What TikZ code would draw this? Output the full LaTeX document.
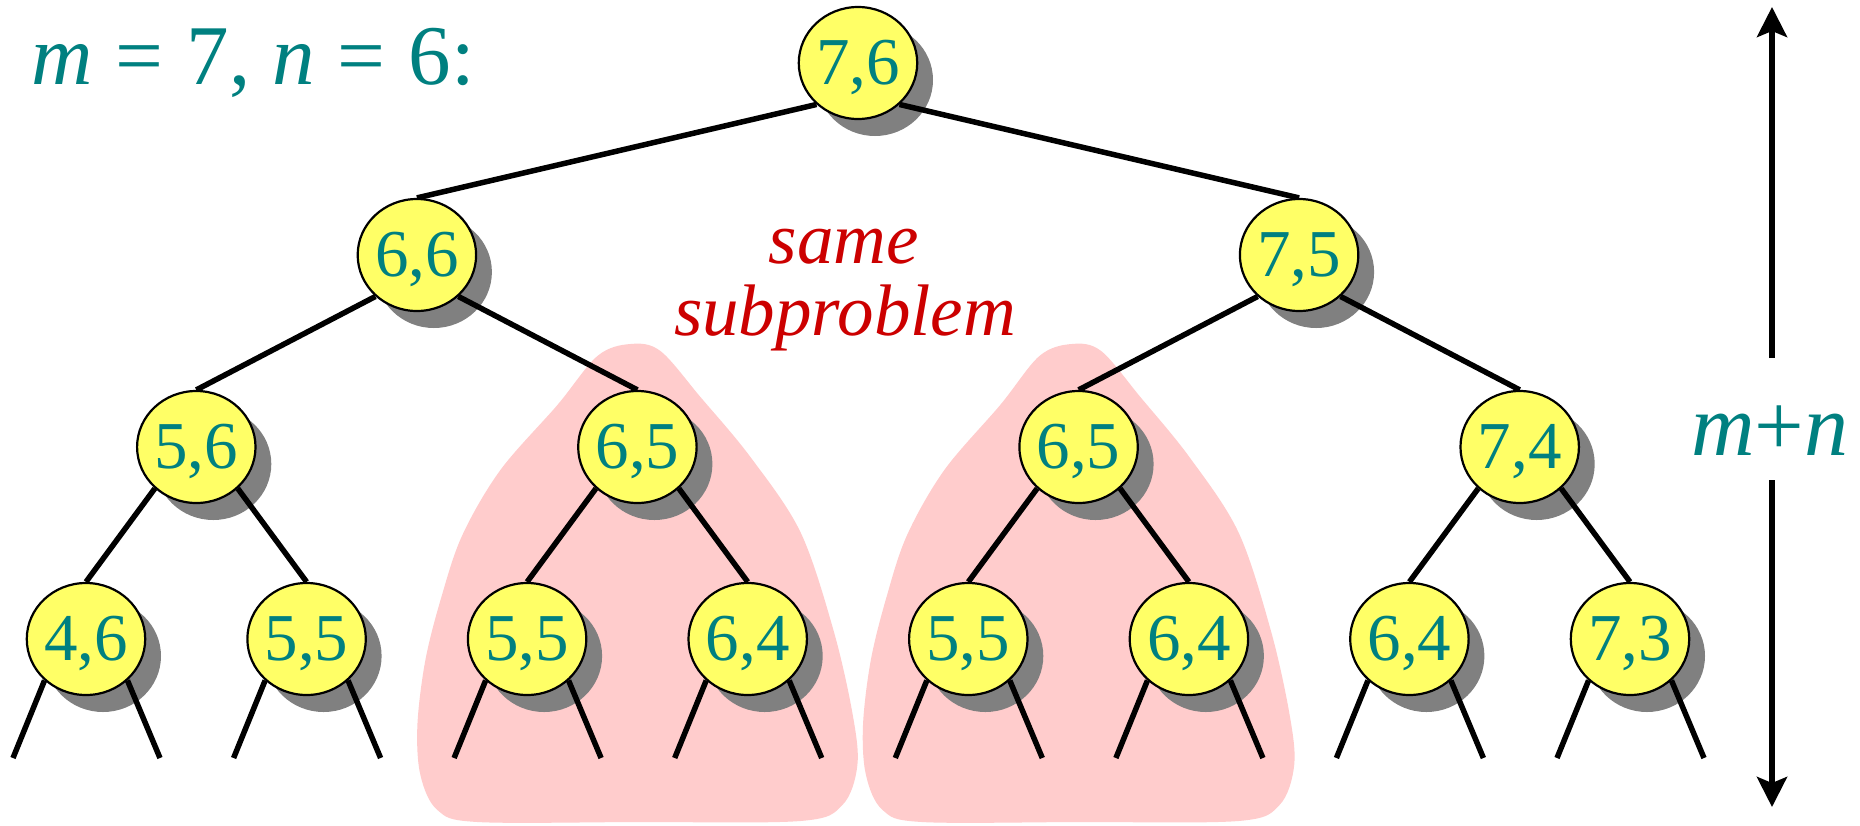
\documentclass[tikz,border=0pt]{standalone}
\usepackage{fontspec}
\setmainfont{Liberation Serif}
\usetikzlibrary{arrows.meta,shapes.geometric}
\pgfdeclarelayer{bg}
\pgfdeclarelayer{shade}
\pgfdeclarelayer{edges}
\pgfsetlayers{bg,shade,edges,main}
\definecolor{tealc}{RGB}{0,128,128}
\definecolor{nodeyellow}{RGB}{255,255,102}
\definecolor{pinkc}{RGB}{255,204,204}
\definecolor{redc}{RGB}{204,0,0}
\definecolor{shadowgray}{RGB}{128,128,128}
\begin{document}
\begin{tikzpicture}[x=1pt,y=-1pt,
  tnode/.style={ellipse, draw=black, line width=2.2pt, fill=nodeyellow,
    minimum width=116pt, minimum height=112pt, inner sep=0pt, text=tealc,
    font=\fontsize{67}{67}\selectfont, text height=45pt, text depth=3pt},
  treeline/.style={line width=5.5pt, black},
  blobfill/.style={fill=pinkc},
  lbl/.style={text=tealc, font=\fontsize{85}{85}\selectfont, inner sep=0pt},
  redlbl/.style={text=redc, font=\fontsize{73}{73}\selectfont\itshape, inner sep=0pt},
  measarrow/.style={line width=5.5pt, -{Stealth[length=30pt,width=30pt,inset=6pt]}}
]
\useasboundingbox (0,0) rectangle (1860,825);
\begin{pgfonlayer}{bg}
  \fill[white] (0,0) rectangle (1860,825);
  \foreach \cx/\sc in {637.4/1,1078.6/0.98}{
    \begin{scope}[shift={(\cx,0)}, xscale=\sc]
      \fill[blobfill] plot[smooth cycle, tension=0.55] coordinates {
        (-7,344) (23,351) (63,397) (113,457) (163,532) (196,630) (215,713)
        (220,765) (205,805) (163,821) (0,822) (-160,822) (-200,810) (-217,775)
        (-220,725) (-212,660) (-196,597) (-175,535) (-137,470) (-80,405) (-40,356)};
    \end{scope}
  }
\end{pgfonlayer}

% title texts
\node[lbl, anchor=base west] (title) at (31,84) {\textit{m}\hspace{2pt} = \hspace{2pt}7, \textit{n}\hspace{2pt} = \hspace{2pt}6:};
\node[redlbl, anchor=base] (same) at (844,263) {same};
\node[redlbl, anchor=base] (subp) at (845,335) {subproblem};
\node[lbl, anchor=base, font=\fontsize{88}{88}\selectfont] (mn) at (1770,455) {\textit{m}+\textit{n}};

% tree nodes
\node[tnode] (r) at (858,63) {7,6};
\node[tnode] (a1) at (416.9,255) {6,6};
\node[tnode] (a2) at (1299.1,255) {7,5};
\node[tnode] (b1) at (196.3,447) {5,6};
\node[tnode] (b2) at (637.4,447) {6,5};
\node[tnode] (b3) at (1078.6,447) {6,5};
\node[tnode] (b4) at (1519.7,447) {7,4};
\node[tnode] (c1) at (86,639) {4,6};
\node[tnode] (c2) at (306.6,639) {5,5};
\node[tnode] (c3) at (527.1,639) {5,5};
\node[tnode] (c4) at (747.7,639) {6,4};
\node[tnode] (c5) at (968.3,639) {5,5};
\node[tnode] (c6) at (1188.9,639) {6,4};
\node[tnode] (c7) at (1409.4,639) {6,4};
\node[tnode] (c8) at (1630,639) {7,3};

% free ends of leaf branches
\foreach \i in {1,...,8}{
  \coordinate (lf\i) at ([shift={(-73,119)}]c\i.center);
  \coordinate (rf\i) at ([shift={(74,119)}]c\i.center);
}

\begin{pgfonlayer}{shade}
  \foreach \n in {r,a1,a2,b1,b2,b3,b4,c1,c2,c3,c4,c5,c6,c7,c8}{
    \fill[shadowgray] ([shift={(17,17)}]\n.center) ellipse [x radius=58pt, y radius=56pt];
  }
\end{pgfonlayer}

\begin{pgfonlayer}{edges}
  \draw[treeline] (a1.north) -- (r.225);
  \draw[treeline] (a2.north) -- (r.315);
  \draw[treeline] (b1.north) -- (a1.225);
  \draw[treeline] (b2.north) -- (a1.315);
  \draw[treeline] (b3.north) -- (a2.225);
  \draw[treeline] (b4.north) -- (a2.315);
  \draw[treeline] (c1.north) -- (b1.225);
  \draw[treeline] (c2.north) -- (b1.315);
  \draw[treeline] (c3.north) -- (b2.225);
  \draw[treeline] (c4.north) -- (b2.315);
  \draw[treeline] (c5.north) -- (b3.225);
  \draw[treeline] (c6.north) -- (b3.315);
  \draw[treeline] (c7.north) -- (b4.225);
  \draw[treeline] (c8.north) -- (b4.315);
  \foreach \i in {1,...,8}{
    \draw[treeline] (c\i.225) -- (lf\i);
    \draw[treeline] (c\i.315) -- (rf\i);
  }
\end{pgfonlayer}

% m+n arrows
\coordinate (uptip) at (1772,7);
\coordinate (dntip) at (1772,807);
\coordinate (upstart) at (1772,358);
\coordinate (dnstart) at (1772,480);
\draw[measarrow] (upstart) -- (uptip);
\draw[measarrow] (dnstart) -- (dntip);
\end{tikzpicture}
\end{document}
